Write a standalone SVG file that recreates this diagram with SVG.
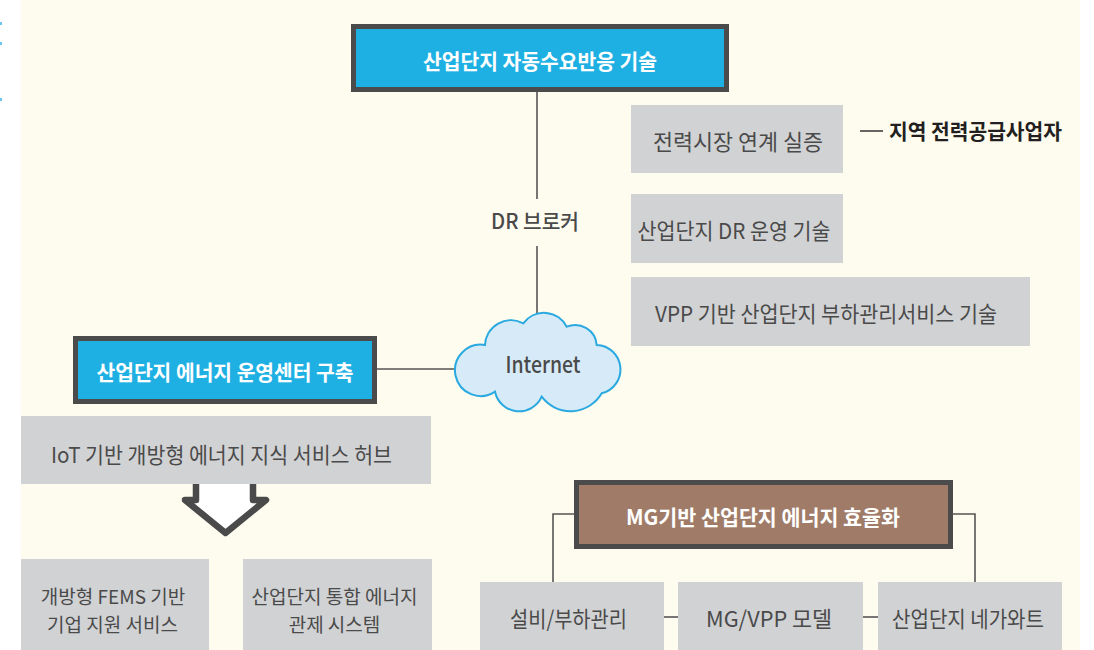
<svg xmlns="http://www.w3.org/2000/svg" width="1094" height="650" viewBox="0 0 1094 650">
<style>
.t{font-family:"Noto Sans CJK KR","Noto Sans",sans-serif;dominant-baseline:central;text-anchor:middle}
.w{fill:#ffffff;font-weight:700;font-size:21px}
.g{fill:#4a4a4a;font-weight:400;font-size:22px}
.g2{fill:#4a4a4a;font-weight:400;font-size:19px}
.gray{fill:#d1d2d4}
.dark{stroke:#4b4b4b;stroke-width:5}
.blue{fill:#1fb0e3}
.brown{fill:#a07c68}
.ln{stroke:#555555;stroke-width:1.6;fill:none}
</style>
<rect x="0" y="0" width="1094" height="650" fill="#ffffff"/>
<rect x="21" y="0" width="1059" height="650" fill="#fefbef"/>
<g id="edge-marks" fill="#6cc6ee">
<rect x="0" y="22" width="2" height="3"/>
<rect x="0" y="42" width="2" height="3"/>
<rect x="0" y="98" width="2" height="3"/>
</g>
<g id="connectors">
<line class="ln" x1="537" y1="92" x2="537" y2="199"/>
<line class="ln" x1="537" y1="246" x2="537" y2="316"/>
<line class="ln" x1="377" y1="369" x2="456" y2="369"/>
<polyline class="ln" points="574,514 553,514 553,582"/>
<polyline class="ln" points="953,514 975,514 975,582"/>
<line class="ln" x1="664" y1="617" x2="678" y2="617"/>
<line class="ln" x1="863" y1="617" x2="878" y2="617"/>
</g>
<g id="n-top">
<rect x="353.5" y="26.5" width="373" height="63" class="blue dark"/>
<text class="t w" x="540" y="60" textLength="234" lengthAdjust="spacingAndGlyphs">산업단지 자동수요반응 기술</text>
</g>
<g id="n-drbroker">
<text class="t" x="535" y="220" fill="#4a4a4a" font-size="21" font-weight="500" textLength="88" lengthAdjust="spacingAndGlyphs">DR 브로커</text>
</g>
<g id="n-market">
<rect x="631" y="105" width="212" height="68" class="gray"/>
<text class="t g" x="738" y="140" textLength="170" lengthAdjust="spacingAndGlyphs">전력시장 연계 실증</text>
</g>
<g id="n-supplier">
<line x1="860" y1="131" x2="883" y2="131" stroke="#333333" stroke-width="1.5"/>
<text class="t" x="975.5" y="130" fill="#231f20" font-size="21" font-weight="700" textLength="173" lengthAdjust="spacingAndGlyphs">지역 전력공급사업자</text>
</g>
<g id="n-drop">
<rect x="631" y="194" width="212" height="69" class="gray"/>
<text class="t g" x="734" y="229" textLength="193" lengthAdjust="spacingAndGlyphs">산업단지 DR 운영 기술</text>
</g>
<g id="n-vpp">
<rect x="631" y="277" width="399" height="69" class="gray"/>
<text class="t g" x="826" y="312" textLength="342" lengthAdjust="spacingAndGlyphs">VPP 기반 산업단지 부하관리서비스 기술</text>
</g>
<g id="n-internet">
<path d="M485,345 A26,26 0 0 1 523.3,323.3 A25.6,25.6 0 0 1 566.7,326.7 A21.7,21.7 0 0 1 596.7,345 A24.5,24.5 0 0 1 601.7,393.3 A36,36 0 0 1 541.7,396.7 A24.7,24.7 0 0 1 495,391.7 A25.7,25.7 0 1 1 485,345 Z" fill="#d6ebf7" stroke="#29a9e0" stroke-width="2"/>
<text class="t" x="543" y="363" fill="#4a4a4a" font-size="23" font-weight="500" textLength="75" lengthAdjust="spacingAndGlyphs">Internet</text>
</g>
<g id="n-center">
<rect x="75.5" y="338.5" width="299" height="63" class="blue dark"/>
<text class="t w" x="225" y="371" textLength="257" lengthAdjust="spacingAndGlyphs">산업단지 에너지 운영센터 구축</text>
</g>
<g id="n-arrow">
<path d="M196,484 V500 H185 L225.5,533 L266,500 H253 V484" fill="#ffffff" stroke="#4a4a4a" stroke-width="6.5" stroke-linejoin="round"/>
</g>
<g id="n-iot">
<rect x="21" y="416" width="410" height="68" class="gray"/>
<text class="t g" x="221.5" y="453" textLength="341" lengthAdjust="spacingAndGlyphs">IoT 기반 개방형 에너지 지식 서비스 허브</text>
</g>
<g id="n-fems">
<rect x="21" y="559" width="188" height="95" class="gray"/>
<text class="t g2" x="113" y="595"><tspan x="113" y="595">개방형 FEMS 기반</tspan><tspan x="112.5" y="623">기업 지원 서비스</tspan></text>
</g>
<g id="n-control">
<rect x="243" y="559" width="189" height="95" class="gray"/>
<text class="t g2" x="334.5" y="595"><tspan x="334.5" y="595">산업단지 통합 에너지</tspan><tspan x="334.5" y="623">관제 시스템</tspan></text>
</g>
<g id="n-mg">
<rect x="576.5" y="482.5" width="374" height="64" class="brown dark"/>
<text class="t w" x="763" y="516" textLength="274" lengthAdjust="spacingAndGlyphs">MG기반 산업단지 에너지 효율화</text>
</g>
<g id="n-load">
<rect x="480" y="582" width="184" height="72" class="gray"/>
<text class="t g" x="568.5" y="617" textLength="117" lengthAdjust="spacingAndGlyphs">설비/부하관리</text>
</g>
<g id="n-mgvpp">
<rect x="678" y="582" width="185" height="72" class="gray"/>
<text class="t g" x="769" y="617" textLength="126" lengthAdjust="spacingAndGlyphs">MG/VPP 모델</text>
</g>
<g id="n-negawatt">
<rect x="878" y="582" width="184" height="72" class="gray"/>
<text class="t g" x="968" y="617" textLength="152" lengthAdjust="spacingAndGlyphs">산업단지 네가와트</text>
</g>
</svg>
